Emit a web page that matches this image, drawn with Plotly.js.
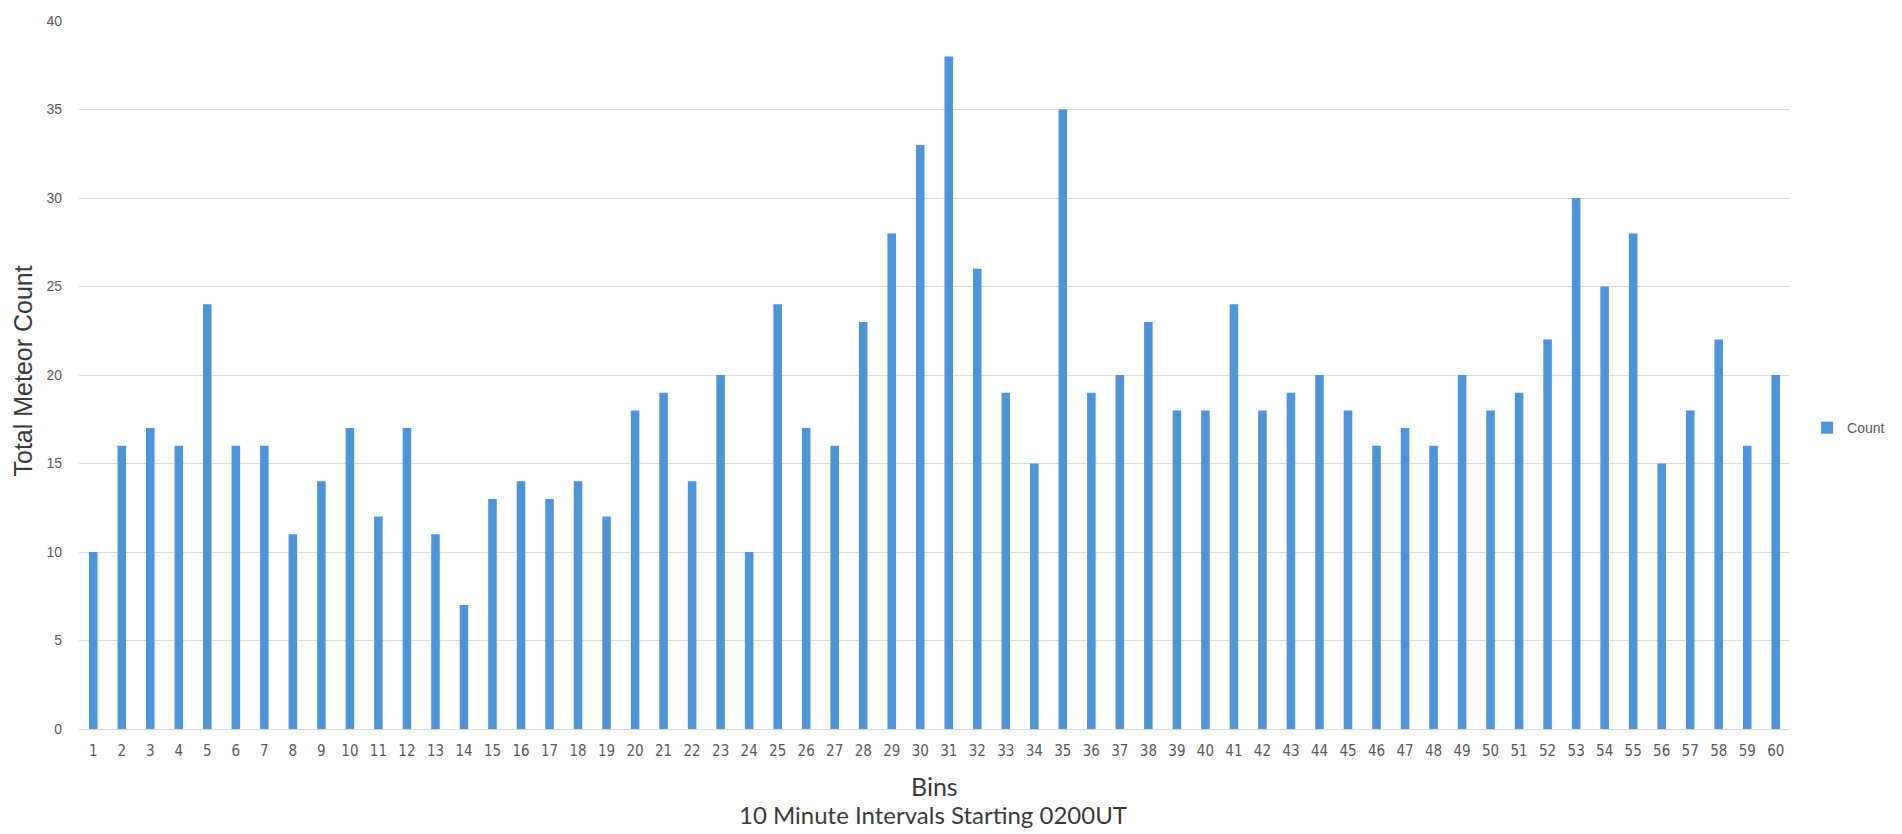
<!DOCTYPE html>
<html>
<head>
<meta charset="utf-8">
<script src="https://cdn.plot.ly/plotly-3.0.1.min.js"></script>
<style>
  html, body { margin: 0; padding: 0; background: #ffffff; }
  #chart { width: 1902px; height: 834px; }
</style>
</head>
<body>
<div id="chart"></div>
<script>
// Bin numbers (10 minute intervals starting 0200UT)
const bins = [
  1, 2, 3, 4, 5, 6, 7, 8, 9, 10,
  11, 12, 13, 14, 15, 16, 17, 18, 19, 20,
  21, 22, 23, 24, 25, 26, 27, 28, 29, 30,
  31, 32, 33, 34, 35, 36, 37, 38, 39, 40,
  41, 42, 43, 44, 45, 46, 47, 48, 49, 50,
  51, 52, 53, 54, 55, 56, 57, 58, 59, 60
];
// Total meteor count per bin
const counts = [
  10, 16, 17, 16, 24, 16, 16, 11, 14, 17,
  12, 17, 11, 7, 13, 14, 13, 14, 12, 18,
  19, 14, 20, 10, 24, 17, 16, 23, 28, 33,
  38, 26, 19, 15, 35, 19, 20, 23, 18, 18,
  24, 18, 19, 20, 18, 16, 17, 16, 20, 18,
  19, 22, 30, 25, 28, 15, 18, 22, 16, 20
];
const yTicks = [0, 5, 10, 15, 20, 25, 30, 35, 40];
const seriesName = 'Count';
const yTitle = 'Total Meteor Count';
const xTitle = 'Bins';
const xSubtitle = '10 Minute Intervals Starting 0200UT';

const barColor = '#4f93d8';
const tickColor = '#595959';
const titleColor = '#3a3a3a';

const trace = {
  type: 'bar',
  x: bins.map(String),
  y: counts,
  name: seriesName,
  marker: { color: barColor, line: { width: 0 } },
  showlegend: true
};

const layout = {
  width: 1902,
  height: 834,
  paper_bgcolor: '#ffffff',
  plot_bgcolor: '#ffffff',
  margin: { l: 79, r: 109, t: 21, b: 105 },
  bargap: 0.7,
  xaxis: {
    type: 'category',
    tickfont: { family: 'Liberation Sans Narrow, DejaVu Sans Condensed, sans-serif', size: 15, color: tickColor },
    showgrid: false,
    showline: true,
    linecolor: '#d9d9d9',
    linewidth: 1,
    ticks: '',
    ticklabelstandoff: 8,
    fixedrange: true
  },
  yaxis: {
    range: [0, 40],
    tickvals: yTicks,
    ticktext: yTicks.map(String),
    tickfont: { family: 'Liberation Sans, Arial, sans-serif', size: 14, color: tickColor },
    showgrid: true,
    gridcolor: '#d9d9d9',
    gridwidth: 1,
    zeroline: false,
    showline: false,
    ticks: '',
    ticklabelstandoff: 16,
    fixedrange: true
  },
  legend: {
    x: 1.010,
    y: 0.425,
    xanchor: 'left',
    yanchor: 'middle',
    font: { family: 'Liberation Sans, Arial, sans-serif', size: 14, color: tickColor },
    bgcolor: 'rgba(0,0,0,0)',
    itemwidth: 30,
    tracegroupgap: 0
  },
  annotations: [
    {
      text: yTitle,
      xref: 'paper', yref: 'paper',
      x: -0.0327, y: 0.505,
      xanchor: 'center', yanchor: 'middle',
      textangle: -90,
      showarrow: false,
      font: { family: 'Liberation Sans, Arial, sans-serif', size: 25, color: titleColor }
    },
    {
      text: xTitle,
      xref: 'paper', yref: 'paper',
      x: 0.5, y: -0.0805,
      xanchor: 'center', yanchor: 'middle',
      showarrow: false,
      font: { family: 'Lato, Open Sans, sans-serif', size: 25, color: titleColor }
    },
    {
      text: xSubtitle,
      xref: 'paper', yref: 'paper',
      x: 0.499, y: -0.1214,
      xanchor: 'center', yanchor: 'middle',
      showarrow: false,
      font: { family: 'Lato, Open Sans, sans-serif', size: 24, color: titleColor }
    }
  ]
};

Plotly.newPlot('chart', [trace], layout, { displayModeBar: false, staticPlot: true });
</script>
</body>
</html>
